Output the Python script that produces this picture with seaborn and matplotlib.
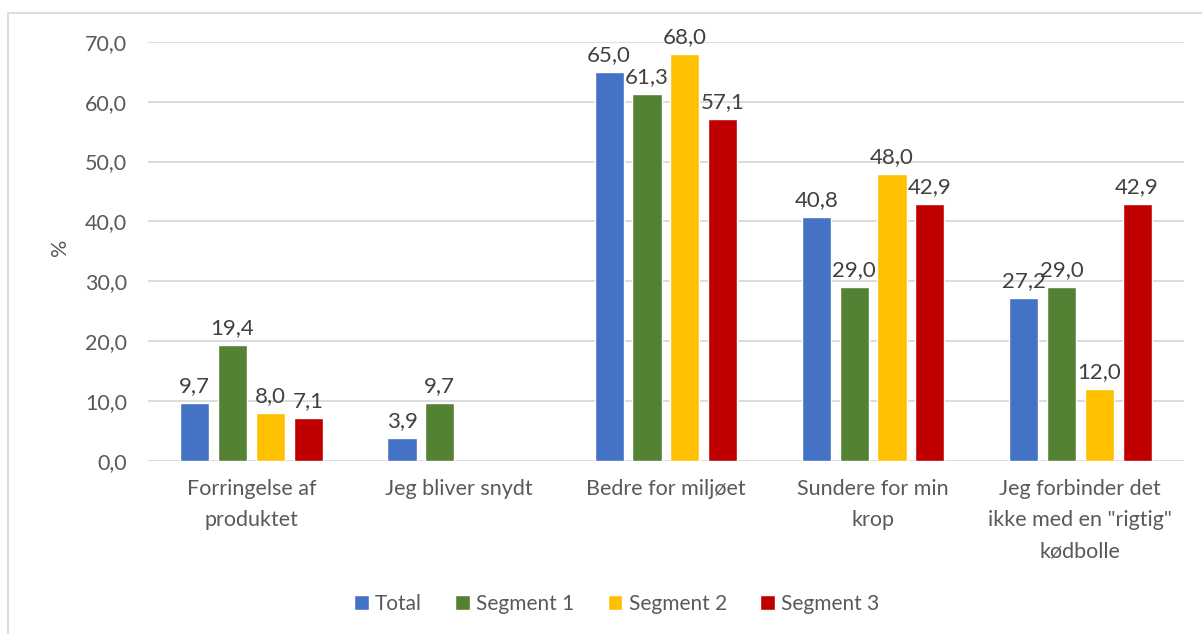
import pandas as pd
import numpy as np
import matplotlib
matplotlib.use("Agg")
import matplotlib.pyplot as plt
from matplotlib.patches import Rectangle
import seaborn as sns

categories = ["Forringelse af\nproduktet", "Jeg bliver snydt", "Bedre for miljøet",
              "Sundere for min\nkrop", "Jeg forbinder det\nikke med en \"rigtig\"\nkødbolle"]
series = ["Total", "Segment 1", "Segment 2", "Segment 3"]
total = [9.7, 3.9, 65.0, 40.8, 27.2]
segment1 = [19.4, 9.7, 61.3, 29.0, 29.0]
segment2 = [8.0, np.nan, 68.0, 48.0, 12.0]
segment3 = [7.1, np.nan, 57.1, 42.9, 42.9]
colors = ["#4472C4", "#548235", "#FFC000", "#C00000"]

rows = []
for name, vals in zip(series, [total, segment1, segment2, segment3]):
    for cat, v in zip(categories, vals):
        rows.append({"Kategori": cat, "Serie": name, "Pct": v})
df = pd.DataFrame(rows)

sns.set_style("white")
plt.rcParams['font.family'] = ['Lato', 'DejaVu Sans']

fig = plt.figure(figsize=(12.02, 6.34), dpi=100)
ax = fig.add_axes([0.123, 0.273, 0.862, 0.661])

sns.barplot(data=df, x="Kategori", y="Pct", hue="Serie", order=categories,
            hue_order=series, palette=colors, width=0.73, gap=0.23,
            saturation=1, ax=ax, legend=True)

for cont in ax.containers:
    labels = ["" if np.isnan(v) else f"{v:.1f}".replace(".", ",") for v in cont.datavalues]
    ax.bar_label(cont, labels=labels, padding=5, fontsize=16, color="#404040")

ax.set_ylim(0, 70)
ax.set_yticks(np.arange(0, 71, 10))
ax.set_yticklabels([f"{t:.1f}".replace(".", ",") for t in np.arange(0, 71, 10)])
ax.yaxis.grid(True, color="#d9d9d9", linewidth=1.3)
ax.set_axisbelow(True)
for s in ax.spines.values():
    s.set_visible(False)
ax.tick_params(axis="both", length=0, labelsize=15.5, labelcolor="#595959")
ax.tick_params(axis="y", pad=15)
ax.tick_params(axis="x", pad=13)
for t in ax.get_xticklabels():
    t.set_linespacing(1.7)
    t.set_fontsize(15.5)
ax.set_xlabel("")
ax.set_ylabel("%", fontsize=15.5, color="#595959")
ax.yaxis.set_label_coords(-0.075, 0.51)

handles, labs = ax.get_legend_handles_labels()
ax.legend(handles, labs, loc="center", bbox_to_anchor=(0.513, 0.048),
          bbox_transform=fig.transFigure, ncol=4, frameon=False,
          fontsize=15, labelcolor="#595959", handlelength=0.7, handleheight=0.7,
          handletextpad=0.3, columnspacing=1.6)

fig.patches.append(Rectangle((8 / 1202, -0.01), 1.02, 1 - 13 / 634 + 0.01,
                             transform=fig.transFigure, fill=False,
                             edgecolor="#d9d9d9", linewidth=1.3))

fig.savefig("out.png", dpi=100)
